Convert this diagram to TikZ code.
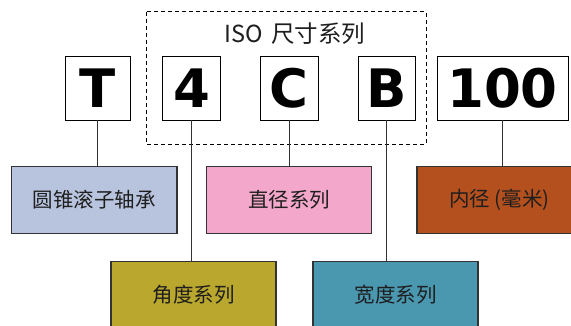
\documentclass[tikz,border=0pt]{standalone}
\usepackage{fontspec}
\setmainfont{DejaVu Sans}
\newfontfamily\cjk{Noto Sans CJK SC}
\definecolor{cA}{HTML}{B8C4DE}
\definecolor{cB}{HTML}{F3A8CB}
\definecolor{cC}{HTML}{B4501E}
\definecolor{cD}{HTML}{B9A72E}
\definecolor{cE}{HTML}{4A97B0}
\definecolor{edge}{HTML}{333333}
\definecolor{txt}{HTML}{1E1E1E}
\tikzset{
  codebox/.style={draw=black, line width=1pt, fill=white, inner sep=0pt, outer sep=0pt,
    minimum height=63.3pt, font=\fontsize{53}{53}\selectfont\bfseries},
  catbox/.style={draw=edge, line width=1.1pt, inner sep=0pt, outer sep=0pt,
    minimum width=165pt, minimum height=66.6pt, text=txt, font=\cjk\fontsize{20.5}{24}\selectfont},
  link/.style={draw=edge, line width=0.9pt},
}
\begin{document}
\begin{tikzpicture}[x=1pt,y=-1pt]
\useasboundingbox (0,0) rectangle (571,325);
\clip (0,0) rectangle (571,325);
\fill[white] (0,0) rectangle (571,325);
\draw[black, line width=1pt, dash pattern=on 4pt off 3pt] (146.7,11.7) rectangle (426,144);
\node[text=txt, font=\cjk\fontsize{23.5}{27}\selectfont] (iso) at (295,34) {ISO\hspace{0.35em}尺寸系列};
\node[codebox, minimum width=65.5pt] (T) at (97.75,88.35) {T};
\node[codebox, minimum width=57.3pt] (n4) at (191.6,88.35) {4};
\node[codebox, minimum width=57.5pt] (C) at (289.25,88.35) {C};
\node[codebox, minimum width=57.7pt] (B) at (386.85,88.35) {B};
\node[codebox, minimum width=131pt] (n100) at (502.5,88.35) {100};
\node[catbox, fill=cA, minimum width=165.3pt] (L1) at (94.35,200) {圆锥滚子轴承};
\node[catbox, fill=cB] (L2) at (289,200) {直径系列};
\node[catbox, fill=cC] (L3) at (499.5,200) {内径 (毫米)};
\node[catbox, fill=cD] (L4) at (193.5,295) {角度系列};
\node[catbox, fill=cE] (L5) at (395.5,295) {宽度系列};
\draw[link] (T.south) -- (T.south |- L1.north);
\draw[link] (n4.south) -- (n4.south |- L4.north);
\draw[link] (C.south) -- (C.south |- L2.north);
\draw[link] (B.south) -- (B.south |- L5.north);
\draw[link] (n100.south) -- (n100.south |- L3.north);
\end{tikzpicture}
\end{document}
